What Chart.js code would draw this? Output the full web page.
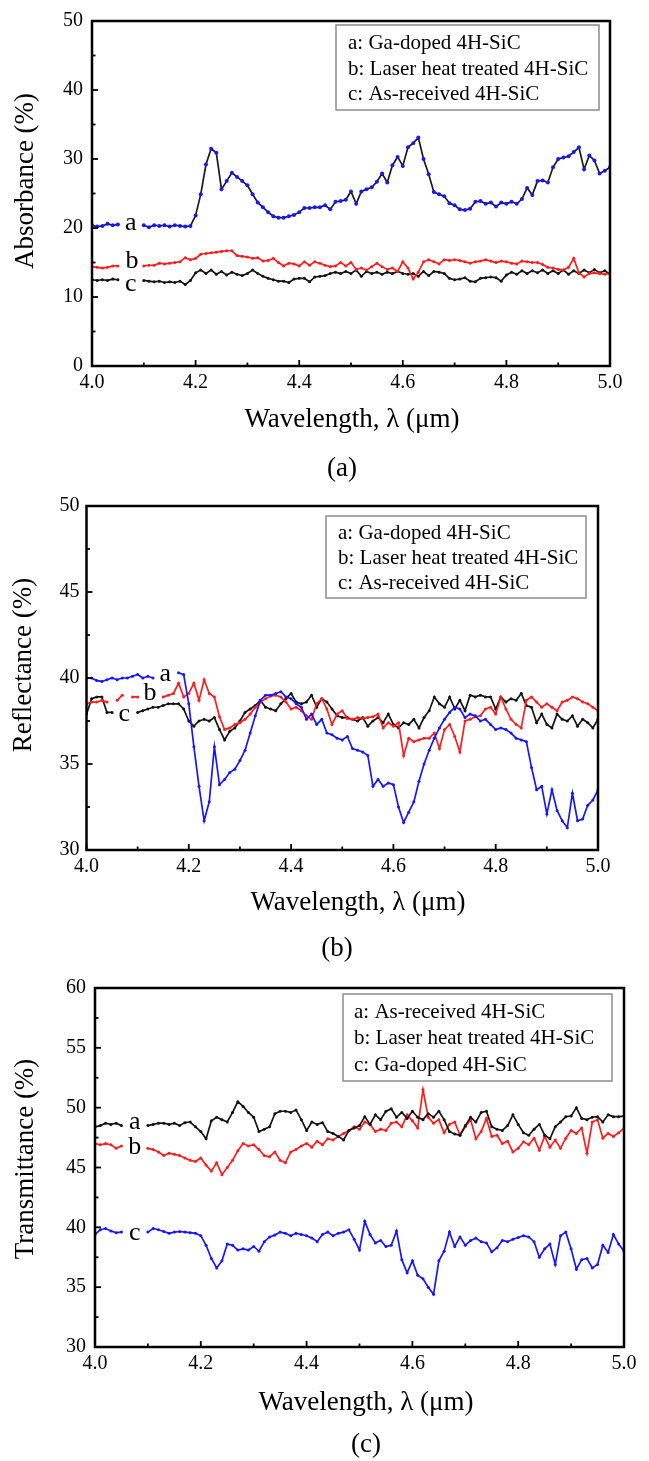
<!DOCTYPE html>
<html>
<head>
<meta charset="utf-8">
<title>Absorbance, reflectance and transmittance of 4H-SiC</title>
<script src="https://cdn.jsdelivr.net/npm/chart.js@4.4.1/dist/chart.umd.min.js"></script>
<style>
  html, body { margin: 0; padding: 0; background: #fff; }
  body { width: 649px; height: 1461px; position: relative; overflow: hidden;
         font-family: "Liberation Serif", "Times New Roman", serif; }
  .panel { position: absolute; left: 0; width: 649px; }
  .caption { position: absolute; font-size: 27px; color: #000;
             transform: translate(-50%, -50%); white-space: nowrap; }
</style>
</head>
<body>
<div class="panel" style="top:0;height:480px"><canvas id="panelA"></canvas></div>
<div class="panel" style="top:480px;height:480px"><canvas id="panelB"></canvas></div>
<div class="panel" style="top:960px;height:501px"><canvas id="panelC"></canvas></div>
<div class="caption" style="left:342px;top:467px">(a)</div>
<div class="caption" style="left:337px;top:947px">(b)</div>
<div class="caption" style="left:366px;top:1443px">(c)</div>
<script>
// Wavelength grid (µm)
const wavelength = [
  4.00, 4.01, 4.02, 4.03, 4.04, 4.05, 4.06, 4.07, 4.08, 4.09,
  4.10, 4.11, 4.12, 4.13, 4.14, 4.15, 4.16, 4.17, 4.18, 4.19,
  4.20, 4.21, 4.22, 4.23, 4.24, 4.25, 4.26, 4.27, 4.28, 4.29,
  4.30, 4.31, 4.32, 4.33, 4.34, 4.35, 4.36, 4.37, 4.38, 4.39,
  4.40, 4.41, 4.42, 4.43, 4.44, 4.45, 4.46, 4.47, 4.48, 4.49,
  4.50, 4.51, 4.52, 4.53, 4.54, 4.55, 4.56, 4.57, 4.58, 4.59,
  4.60, 4.61, 4.62, 4.63, 4.64, 4.65, 4.66, 4.67, 4.68, 4.69,
  4.70, 4.71, 4.72, 4.73, 4.74, 4.75, 4.76, 4.77, 4.78, 4.79,
  4.80, 4.81, 4.82, 4.83, 4.84, 4.85, 4.86, 4.87, 4.88, 4.89,
  4.90, 4.91, 4.92, 4.93, 4.94, 4.95, 4.96, 4.97, 4.98, 4.99, 5.00
];

// (a) Absorbance (%)
const absGaDoped = [
  20.4, 20.2, 20.3, 20.6, 20.4, 20.5, null, null, null, null,
  20.4, 20.1, 20.4, 20.3, 20.4, 20.2, 20.4, 20.3, 20.2, 20.3,
  21.8, 24.9, 29.2, 31.5, 30.9, 25.6, 26.8, 28.0, 27.4, 26.8,
  26.2, 24.9, 23.7, 23.0, 22.3, 21.7, 21.5, 21.5, 21.7, 21.9,
  22.3, 22.9, 22.9, 23.0, 23.0, 23.3, 22.7, 23.8, 23.9, 24.1,
  25.3, 23.5, 25.3, 25.6, 25.9, 26.7, 27.9, 26.6, 29.1, 30.3,
  29.0, 31.7, 32.3, 33.1, 30.0, 27.8, 25.2, 24.9, 24.6, 23.6,
  23.3, 22.7, 22.6, 22.8, 23.8, 23.9, 23.5, 23.7, 23.1, 23.7,
  23.5, 23.8, 23.5, 24.2, 25.8, 24.8, 26.8, 26.9, 26.6, 28.8,
  30.0, 30.2, 30.4, 31.0, 31.7, 28.5, 30.5, 29.8, 27.9, 28.3, 28.8
];
const absLaser = [
  14.4, 14.3, 14.2, 14.3, 14.5, 14.5, null, null, null, null,
  14.5, 14.6, 14.6, 14.9, 14.8, 14.9, 15.0, 15.1, 15.7, 15.4,
  15.6, 16.2, 16.3, 16.4, 16.5, 16.6, 16.7, 16.7, 16.0, 15.9,
  15.8, 15.6, 15.7, 15.2, 15.3, 15.6, 15.0, 14.5, 14.9, 14.8,
  14.5, 15.1, 14.6, 15.1, 14.9, 14.6, 14.4, 14.5, 15.0, 14.5,
  15.0, 14.0, 14.2, 13.9, 14.4, 14.9, 14.4, 14.0, 14.2, 13.7,
  15.1, 14.2, 12.6, 13.6, 15.1, 15.4, 15.1, 14.8, 15.4, 15.3,
  15.4, 15.3, 15.1, 14.9, 15.1, 15.2, 15.4, 15.2, 15.0, 15.2,
  15.1, 14.9, 14.8, 15.2, 15.1, 15.0, 15.0, 14.7, 14.3, 14.2,
  14.0, 13.9, 14.3, 15.6, 13.5, 12.9, 13.4, 13.5, 13.4, 13.3, 13.4
];
const absAsReceived = [
  12.5, 12.4, 12.5, 12.4, 12.6, 12.5, null, null, null, null,
  12.4, 12.3, 12.2, 12.3, 12.1, 12.2, 12.1, 12.3, 11.8, 12.4,
  13.5, 13.9, 13.4, 13.9, 13.3, 13.7, 13.2, 13.6, 13.3, 13.1,
  13.4, 13.9, 13.4, 13.0, 12.7, 12.5, 12.3, 12.3, 12.1, 12.6,
  12.7, 12.7, 12.2, 12.9, 13.0, 13.1, 13.4, 13.6, 13.4, 13.7,
  13.4, 13.9, 13.0, 13.7, 13.4, 13.6, 13.3, 13.6, 13.4, 13.7,
  13.4, 13.3, 13.4, 13.0, 13.7, 13.1, 13.7, 13.6, 13.4, 12.7,
  12.5, 12.6, 12.8, 12.3, 12.2, 12.7, 12.8, 12.9, 12.8, 12.3,
  13.2, 13.6, 13.3, 13.8, 13.4, 13.8, 13.5, 13.9, 13.4, 13.8,
  13.4, 13.9, 13.3, 13.8, 13.4, 13.9, 13.5, 14.0, 13.5, 13.8, 13.3
];

// (b) Reflectance (%)
const refGaDoped = [
  40.0, 40.0, 39.85, 39.8, 39.9, 40.0, 39.9, 40.0, 40.0, 40.1,
  40.2, 40.0, 40.1, 40.0, null, null, null, null, 40.3, 40.2,
  38.5, 36.0, 33.7, 31.7, 32.8, 36.0, 33.8, 34.1, 34.5, 34.7,
  35.2, 35.8, 36.8, 37.8, 38.7, 39.0, 39.0, 39.1, 39.2, 38.9,
  38.8, 38.5, 38.3, 37.6, 37.9, 37.3, 37.6, 36.8, 36.7, 36.5,
  36.4, 36.6, 35.9, 35.8, 35.7, 35.5, 33.7, 34.1, 33.7, 33.9,
  33.8, 32.5, 31.6, 32.2, 32.8, 34.0, 35.0, 35.8, 36.5, 37.1,
  37.6, 38.0, 38.3, 38.2, 37.7, 37.9, 37.8, 37.5, 37.6, 37.3,
  37.0, 37.1, 37.0, 36.8, 36.5, 36.4, 36.3, 34.8, 33.5, 33.7,
  32.1, 33.5, 32.3, 31.7, 31.3, 33.3, 31.7, 31.8, 32.6, 32.9, 33.5
];
const refLaser = [
  38.5, 38.6, 38.6, 38.7, 38.6, null, 38.7, 39.0, null, 38.9,
  38.9, null, null, null, null, 38.9, 39.0, 39.1, 39.7, 38.9,
  39.1, 39.7, 38.7, 39.9, 39.1, 38.9, 37.75, 37.0, 37.1, 37.3,
  37.4, 37.6, 37.9, 38.3, 38.6, 38.8, 38.95, 39.0, 38.9, 38.6,
  38.2, 38.3, 38.1, 37.8, 37.6, 38.5, 38.8, 38.2, 37.3, 37.9,
  38.1, 37.65, 37.6, 37.7, 37.65, 37.7, 37.75, 37.9, 37.1, 37.4,
  37.2, 37.4, 35.5, 36.5, 36.3, 36.4, 36.5, 36.5, 36.8, 35.9,
  37.0, 37.3, 36.6, 35.7, 37.5, 37.6, 37.75, 37.8, 38.2, 38.3,
  37.9, 38.9, 38.2, 37.6, 37.3, 37.1, 38.7, 38.9, 38.6, 38.3,
  38.5, 38.3, 38.1, 38.6, 38.7, 38.9, 38.8, 38.6, 38.5, 38.3, 38.1
];
const refAsReceived = [
  37.9, 38.8, 38.9, 38.9, 38.0, 38.0, null, null, null, null,
  38.0, 38.1, 38.2, 38.3, 38.3, 38.4, 38.5, 38.5, 38.5, 38.2,
  37.5, 37.2, 37.5, 37.6, 37.5, 37.7, 37.0, 36.4, 36.9, 37.1,
  37.5, 38.0, 38.2, 38.4, 38.7, 38.3, 38.2, 38.1, 38.5, 38.8,
  39.1, 38.6, 38.5, 38.6, 39.0, 38.3, 38.8, 38.6, 38.2, 37.8,
  37.7, 37.7, 37.6, 37.5, 37.7, 37.2, 37.5, 37.7, 37.4, 37.9,
  37.3, 37.1, 37.4, 37.3, 37.6, 37.1, 37.7, 38.1, 38.9, 38.5,
  38.3, 38.9, 38.2, 38.7, 38.1, 39.0, 38.9, 39.0, 38.9, 38.9,
  38.2, 38.9, 38.6, 38.8, 38.7, 39.1, 38.4, 38.3, 37.4, 37.9,
  37.3, 37.1, 37.9, 37.6, 37.5, 37.8, 37.2, 37.6, 37.4, 37.1, 37.6
];

// (c) Transmittance (%)
const transAsReceived = [
  48.4, 48.5, 48.7, 48.6, 48.7, 48.5, null, null, null, null,
  48.5, 48.6, 48.7, 48.7, 48.6, 48.7, 48.5, 48.75, 48.8, 48.4,
  48.0, 47.4, 48.9, 49.2, 49.0, 48.8, 49.6, 50.5, 50.1, 49.6,
  49.2, 48.0, 48.2, 48.4, 49.5, 49.7, 49.7, 49.6, 49.8, 49.0,
  48.1, 48.8, 48.6, 48.75, 48.0, 47.85, 47.6, 47.3, 48.1, 48.3,
  48.5, 49.25, 48.6, 49.4, 49.0, 49.7, 49.9, 49.2, 49.6, 49.1,
  49.7, 49.2, 49.0, 49.5, 49.2, 49.7, 49.0, 48.0, 47.8, 47.7,
  48.5, 49.2, 48.8, 49.6, 49.7, 48.4, 48.2, 48.1, 48.5, 49.4,
  48.6, 47.9, 47.7, 48.2, 48.6, 47.7, 47.4, 48.4, 48.8, 49.25,
  49.3, 50.0, 49.1, 49.0, 49.2, 49.25, 48.8, 49.4, 49.25, 49.25, 49.3
];
const transLaser = [
  47.0, 46.9, 47.0, 46.9, 46.6, 46.8, null, null, null, null,
  46.6, 46.5, 46.3, 46.0, 46.2, 46.1, 46.0, 45.8, 45.6, 45.5,
  45.8, 45.2, 44.7, 45.4, 44.4, 45.0, 45.6, 46.4, 47.0, 46.8,
  46.9, 46.5, 46.0, 45.9, 46.3, 45.6, 45.4, 46.3, 46.5, 46.8,
  47.0, 46.7, 47.2, 46.9, 47.4, 47.3, 47.6, 47.85, 48.1, 48.4,
  48.2, 48.8, 48.6, 48.0, 48.2, 48.1, 48.7, 48.8, 48.4, 49.4,
  48.9, 48.3, 51.5, 49.2, 48.7, 49.0, 47.9, 48.6, 48.8, 47.7,
  48.4, 49.0, 47.4, 48.0, 49.1, 47.6, 47.7, 47.0, 47.2, 46.3,
  46.6, 47.15, 46.9, 47.45, 46.45, 47.6, 46.7, 47.3, 46.6, 47.45,
  48.1, 47.85, 48.3, 46.2, 48.8, 49.0, 47.45, 47.85, 47.6, 47.9, 48.3
];
const transGaDoped = [
  39.4, 39.8, 39.9, 39.7, 39.55, 39.6, null, null, null, null,
  39.6, 39.9, 39.8, 39.65, 39.5, 39.6, 39.65, 39.6, 39.55, 39.5,
  39.3, 38.5, 37.4, 36.6, 37.2, 38.6, 38.5, 38.1, 38.2, 38.1,
  38.4, 38.0, 38.8, 39.2, 39.35, 39.6, 39.5, 39.3, 39.5, 39.4,
  39.3, 39.1, 38.8, 39.4, 39.6, 39.3, 39.5, 39.6, 39.8, 39.0,
  38.1, 40.5, 39.4, 38.7, 38.9, 38.4, 38.5, 39.7, 37.3, 36.2,
  37.2, 36.0, 35.7, 35.0, 34.4, 37.2, 38.0, 39.6, 38.4, 39.2,
  38.5, 38.9, 39.1, 38.8, 38.7, 37.95, 38.3, 38.9, 38.8, 39.0,
  39.15, 39.3, 39.2, 38.8, 37.5, 38.2, 38.6, 36.9, 39.3, 39.6,
  38.2, 36.5, 37.3, 37.4, 36.6, 36.9, 38.5, 37.9, 39.4, 38.6, 38.0
];

// Tick values
const xTickValues = [4.0, 4.2, 4.4, 4.6, 4.8, 5.0];
const xMinorValues = [4.1, 4.3, 4.5, 4.7, 4.9];
const absTickValues = [0, 10, 20, 30, 40, 50];
const absMinorValues = [5, 15, 25, 35, 45];
const refTickValues = [30, 35, 40, 45, 50];
const refMinorValues = [32.5, 37.5, 42.5, 47.5];
const transTickValues = [30, 35, 40, 45, 50, 55, 60];
const transMinorValues = [32.5, 37.5, 42.5, 47.5, 52.5, 57.5];

// Legend texts
const legendAbs = ['a: Ga-doped 4H-SiC', 'b: Laser heat treated 4H-SiC', 'c: As-received 4H-SiC'];
const legendRef = ['a: Ga-doped 4H-SiC', 'b: Laser heat treated 4H-SiC', 'c: As-received 4H-SiC'];
const legendTrans = ['a: As-received 4H-SiC', 'b: Laser heat treated 4H-SiC', 'c: Ga-doped 4H-SiC'];

const SERIF = '"Liberation Serif", "Times New Roman", serif';
const BLUE = '#1616ff';
const RED = '#ff1c1c';
const BLACK = '#141414';

Chart.defaults.font.family = SERIF;
Chart.defaults.color = '#000';

function series(label, values, color, lineColor, radius) {
  return {
    label,
    data: wavelength.map((w, i) => ({ x: w, y: values[i] })),
    borderColor: lineColor || color,
    backgroundColor: color,
    pointBackgroundColor: color,
    pointBorderWidth: 0,
    pointRadius: radius || 1.5,
    pointHoverRadius: 0,
    borderWidth: 1.7,
    spanGaps: false,
    tension: 0
  };
}

// Frame, inward ticks, curve tags, boxed legend and axis titles
const panelDecor = {
  id: 'panelDecor',
  afterDatasetsDraw(chart, args, o) {
    const { ctx, chartArea: a, scales: { x, y } } = chart;
    ctx.save();
    ctx.strokeStyle = '#000';
    ctx.lineWidth = 1.8;
    const seg = (x1, y1, x2, y2) => { ctx.beginPath(); ctx.moveTo(x1, y1); ctx.lineTo(x2, y2); ctx.stroke(); };
    xTickValues.forEach(v => { const p = x.getPixelForValue(v); seg(p, a.bottom, p, a.bottom - 6); });
    xMinorValues.forEach(v => { const p = x.getPixelForValue(v); seg(p, a.bottom, p, a.bottom - 3.5); });
    o.yMajor.forEach(v => { const p = y.getPixelForValue(v); seg(a.left, p, a.left + 6, p); });
    o.yMinor.forEach(v => { const p = y.getPixelForValue(v); seg(a.left, p, a.left + 3.5, p); });
    ctx.lineWidth = 2.5;
    ctx.strokeRect(a.left, a.top, a.right - a.left, a.bottom - a.top);

    // letters beside the curves
    ctx.fillStyle = '#000';
    ctx.font = '26px ' + SERIF;
    ctx.textAlign = 'center';
    ctx.textBaseline = 'middle';
    o.tags.forEach(t => ctx.fillText(t.text, x.getPixelForValue(t.x), y.getPixelForValue(t.y)));

    // legend box
    const b = o.legendBox;
    ctx.fillStyle = '#fff';
    ctx.fillRect(b.x, b.y, b.w, b.h);
    ctx.strokeStyle = '#8c8c8c';
    ctx.lineWidth = 1.5;
    ctx.strokeRect(b.x, b.y, b.w, b.h);
    ctx.fillStyle = '#000';
    ctx.font = '21px ' + SERIF;
    ctx.textAlign = 'left';
    o.legendText.forEach((s, i) => ctx.fillText(s, b.textX, b.rows[i]));

    // axis titles
    ctx.font = '27px ' + SERIF;
    ctx.textAlign = 'center';
    ctx.fillText(o.xTitle.text, o.xTitle.x, o.xTitle.y);
    ctx.save();
    ctx.translate(o.yTitle.x, o.yTitle.y);
    ctx.rotate(-Math.PI / 2);
    ctx.fillText(o.yTitle.text, 0, 0);
    ctx.restore();
    ctx.restore();
  }
};

function makePanel(id, p) {
  return new Chart(document.getElementById(id), {
    type: 'line',
    data: { datasets: p.datasets },
    plugins: [panelDecor],
    options: {
      responsive: true,
      maintainAspectRatio: false,
      devicePixelRatio: 1,
      animation: false,
      events: [],
      layout: { padding: { left: 0, top: p.area.top, right: 649 - p.area.right, bottom: 0 } },
      plugins: {
        legend: { display: false },
        tooltip: { enabled: false },
        panelDecor: {
          yMajor: p.yTicks, yMinor: p.yMinor, tags: p.tags,
          legendBox: p.legendBox, legendText: p.legendText,
          xTitle: p.xTitle, yTitle: p.yTitle
        }
      },
      scales: {
        x: {
          type: 'linear', min: 4.0, max: 5.0,
          grid: { display: false, drawTicks: false },
          border: { display: false },
          afterBuildTicks: s => { s.ticks = xTickValues.map(v => ({ value: v })); },
          afterFit: s => { s.height = p.canvasH - p.area.bottom; },
          ticks: { padding: 5, font: { size: 20 }, color: '#000', maxRotation: 0,
                   callback: v => Number(v).toFixed(1) }
        },
        y: {
          type: 'linear', min: p.yMin, max: p.yMax,
          grid: { display: false, drawTicks: false },
          border: { display: false },
          afterBuildTicks: s => { s.ticks = p.yTicks.map(v => ({ value: v })); },
          afterFit: s => { s.width = p.area.left; },
          ticks: { padding: p.yPad, font: { size: 20 }, color: '#000',
                   callback: v => String(v) }
        }
      }
    }
  });
}

makePanel('panelA', {
  canvasH: 480,
  area: { left: 92, top: 16, right: 610, bottom: 366 },
  yMin: 0, yMax: 50, yTicks: absTickValues, yMinor: absMinorValues, yPad: 9,
  datasets: [
    series('a', absGaDoped, BLUE, '#1a1a1a', 2.0),
    series('b', absLaser, RED),
    series('c', absAsReceived, BLACK)
  ],
  tags: [ { text: 'a', x: 4.075, y: 20.7 }, { text: 'b', x: 4.077, y: 15.2 }, { text: 'c', x: 4.075, y: 11.8 } ],
  legendBox: { x: 336, y: 25, w: 263, h: 85, textX: 348, rows: [43, 69, 94] },
  legendText: legendAbs,
  xTitle: { text: 'Wavelength, \u03bb (\u03bcm)', x: 352, y: 420 },
  yTitle: { text: 'Absorbance (%)', x: 26, y: 181 }
});

makePanel('panelB', {
  canvasH: 480,
  area: { left: 86.5, top: 26, right: 598, bottom: 370 },
  yMin: 30, yMax: 50, yTicks: refTickValues, yMinor: refMinorValues, yPad: 7,
  datasets: [
    series('a', refGaDoped, BLUE),
    series('b', refLaser, RED),
    series('c', refAsReceived, BLACK)
  ],
  tags: [ { text: 'a', x: 4.154, y: 40.2 }, { text: 'b', x: 4.124, y: 39.1 }, { text: 'c', x: 4.074, y: 37.9 } ],
  legendBox: { x: 326, y: 36, w: 260, h: 82, textX: 338, rows: [53, 78, 103] },
  legendText: legendRef,
  xTitle: { text: 'Wavelength, \u03bb (\u03bcm)', x: 358, y: 423 },
  yTitle: { text: 'Reflectance (%)', x: 24, y: 185 }
});

makePanel('panelC', {
  canvasH: 501,
  area: { left: 95, top: 28, right: 624, bottom: 387 },
  yMin: 30, yMax: 60, yTicks: transTickValues, yMinor: transMinorValues, yPad: 9,
  datasets: [
    series('a', transAsReceived, BLACK),
    series('b', transLaser, RED),
    series('c', transGaDoped, BLUE)
  ],
  tags: [ { text: 'a', x: 4.075, y: 48.8 }, { text: 'b', x: 4.075, y: 46.7 }, { text: 'c', x: 4.075, y: 39.5 } ],
  legendBox: { x: 343, y: 34, w: 269, h: 87, textX: 354, rows: [52, 78, 105] },
  legendText: legendTrans,
  xTitle: { text: 'Wavelength, \u03bb (\u03bcm)', x: 366, y: 443 },
  yTitle: { text: 'Transmittance (%)', x: 26, y: 199 }
});
</script>
</body>
</html>
